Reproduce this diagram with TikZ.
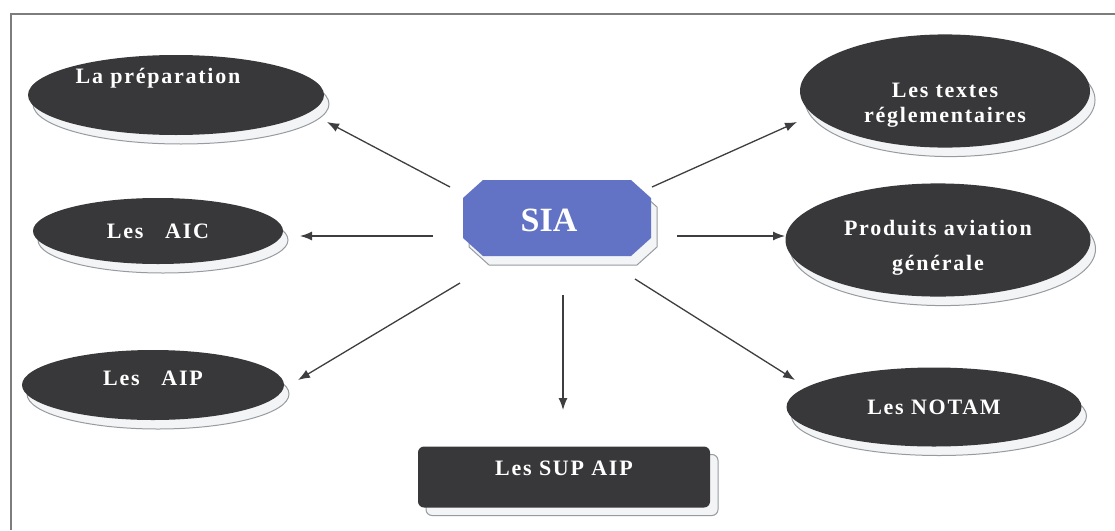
\documentclass[tikz,border=0pt]{standalone}
\usepackage{fontspec}
\setmainfont{Liberation Serif}
\newfontfamily\lblfont[LetterSpace=8]{Liberation Serif}
\usetikzlibrary{shapes.geometric,arrows.meta,shadows,backgrounds,calc}

\definecolor{ovalfill}{RGB}{56,56,58}
\definecolor{siablue}{RGB}{98,114,196}
\definecolor{rimfill}{RGB}{242,244,246}
\definecolor{rimline}{RGB}{150,155,160}
\definecolor{arrowgray}{RGB}{62,62,64}
\definecolor{framegray}{RGB}{125,125,125}

\begin{document}
\begin{tikzpicture}[x=1pt,y=-1pt,
  rim/.style={drop shadow={shadow xshift=#1, shadow yshift=-9pt,
      fill=rimfill, draw=rimline, line width=1pt, opacity=1}},
  rim/.default=5pt,
  lbl/.style={text=white, font=\lblfont\bfseries\fontsize{22}{25}\selectfont},
  oval/.style={ellipse, fill=ovalfill, inner sep=0pt, lbl, rim},
  supbox/.style={rectangle, rounded corners=6pt, fill=ovalfill, inner sep=0pt,
      lbl, drop shadow={shadow xshift=8pt, shadow yshift=-8pt,
      fill=rimfill, draw=rimline, line width=1pt, opacity=1}},
  link/.style={draw=arrowgray, line width=1.3pt,
      -{Latex[length=12pt,width=9pt]}}
]
\useasboundingbox (0,0) rectangle (1115,530);

% frame
\draw[framegray, line width=2pt] (11,530) -- (11,14) -- (1115,14);

% left column
\node[oval, minimum width=296pt, minimum height=80pt, text depth=38pt]
  (prep) at (176,95) {La préparation\kern36pt};
\node[oval, minimum width=250pt, minimum height=66pt]
  (aic) at (158,231) {Les\ \ \ AIC};
\node[oval, minimum width=262pt, minimum height=70pt, text depth=14pt]
  (aip) at (153,385) {Les\ \ \ AIP};

% right column
\node[oval, minimum width=290pt, minimum height=96pt,
      text height=59pt, text depth=21pt]
  (textes) at (945,91) {\begin{tabular}{c}Les textes\\réglementaires\end{tabular}};
\node[oval, minimum width=305pt, minimum height=100pt,
      text height=53pt, text depth=27pt]
  (produits) at (938,240) {\begin{tabular}{c}Produits aviation\\[10pt]générale\end{tabular}};
\node[oval, minimum width=295pt, minimum height=79pt]
  (notam) at (934,407) {Les NOTAM};

% bottom box
\node[supbox, minimum width=292pt, minimum height=61pt, text depth=18pt]
  (sup) at (564,477) {Les SUP AIP};

% central octagon
\node[text=white, font=\bfseries\fontsize{34}{40}\selectfont, inner sep=0pt]
  (sia) at (549,220) {SIA};
\begin{scope}[on background layer]
  \begin{scope}[shift={($(sia)+(14,7)$)}]
    \filldraw[fill=rimfill, draw=rimline, line width=1pt]
      (-74,-38) -- (74,-38) -- (94,-20) -- (94,20) -- (74,38)
      -- (-74,38) -- (-94,20) -- (-94,-20) -- cycle;
  \end{scope}
  \begin{scope}[shift={($(sia)+(8,-2)$)}]
    \fill[siablue]
      (-74,-38) -- (74,-38) -- (94,-20) -- (94,20) -- (74,38)
      -- (-74,38) -- (-94,20) -- (-94,-20) -- cycle;
  \end{scope}
\end{scope}

% connector ends
\coordinate (t1) at (450,187); \coordinate (h1) at (327,122);
\coordinate (t2) at (433,236); \coordinate (h2) at (300,236);
\coordinate (t3) at (460,283); \coordinate (h3) at (298,380);
\coordinate (t4) at (563,295); \coordinate (h4) at (563,410);
\coordinate (t5) at (652,187); \coordinate (h5) at (797,122);
\coordinate (t6) at (677,236); \coordinate (h6) at (785,236);
\coordinate (t7) at (635,279); \coordinate (h7) at (795,380);

\foreach \i in {1,...,7} \draw[link] (t\i) -- (h\i);
\end{tikzpicture}
\end{document}
